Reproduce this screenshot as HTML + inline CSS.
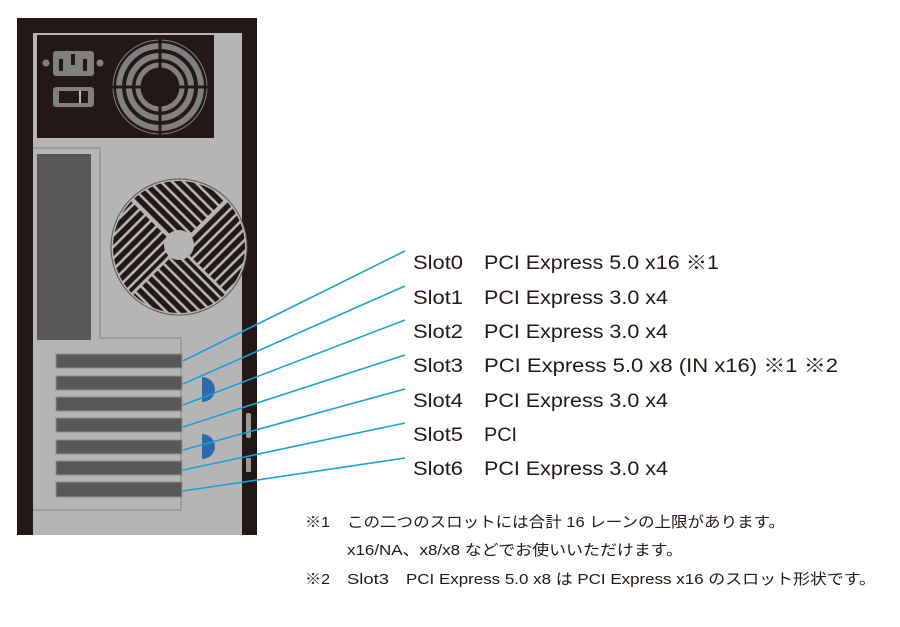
<!DOCTYPE html>
<html><head><meta charset="utf-8"><style>
html,body{margin:0;padding:0;background:#fff;width:900px;height:627px;overflow:hidden}
svg{display:block}
text{font-family:"Liberation Sans","Noto Sans CJK JP",sans-serif;fill:#231815}
</style></head><body>
<svg width="900" height="627" viewBox="0 0 900 627" xmlns="http://www.w3.org/2000/svg">
<defs>
<pattern id="pA" width="8" height="8" patternUnits="userSpaceOnUse" patternTransform="rotate(45)"><rect width="8" height="5.4" fill="#231815"/></pattern>
<pattern id="pB" width="8" height="8" patternUnits="userSpaceOnUse" patternTransform="rotate(-45)"><rect width="8" height="5.4" fill="#231815"/></pattern>
<clipPath id="cf"><circle cx="179" cy="247" r="66"/></clipPath>
</defs>
<rect x="17" y="18" width="240" height="517" fill="#231815"/>
<rect x="33" y="33" width="209" height="502" fill="#b5b5b6"/>
<rect x="37" y="35" width="177" height="103" fill="#231815"/>
<circle cx="46" cy="63" r="3.5" fill="#808080"/>
<circle cx="100" cy="63" r="3.5" fill="#808080"/>
<rect x="53" y="51" width="41" height="25" rx="3" fill="#808080"/>
<rect x="59" y="59" width="4" height="12" fill="#231815"/>
<rect x="71" y="54" width="4" height="11" fill="#231815"/>
<rect x="83" y="59" width="4" height="12" fill="#231815"/>
<rect x="53" y="87" width="41" height="20" rx="3" fill="#808080"/>
<rect x="59" y="91" width="29" height="12" fill="#231815"/>
<rect x="79" y="91" width="2" height="12" fill="#b5b5b6"/>
<g fill="none" stroke="#808080">
<circle cx="160" cy="87" r="47" stroke-width="1"/>
<circle cx="160" cy="87" r="41" stroke-width="6"/>
<circle cx="160" cy="87" r="31" stroke-width="6"/>
<circle cx="160" cy="87" r="22" stroke-width="5"/>
</g>
<g stroke="#231815" stroke-width="3"><line x1="160" y1="38" x2="160" y2="136"/><line x1="111" y1="87" x2="209" y2="87"/></g>
<path d="M33 148 H100 V338 H181 V510 H33" fill="none" stroke="#8e8e8e" stroke-width="1.2"/>
<rect x="37" y="154" width="54" height="186" fill="#595757"/>
<circle cx="179" cy="247" r="68" fill="#b5b5b6" stroke="#595757" stroke-width="1"/>
<g clip-path="url(#cf)">
<path d="M179 247 L111 179 L247 179 Z" fill="url(#pA)"/>
<path d="M179 247 L111 315 L247 315 Z" fill="url(#pA)"/>
<path d="M179 247 L111 179 L111 315 Z" fill="url(#pB)"/>
<path d="M179 247 L247 179 L247 315 Z" fill="url(#pB)"/>
<g stroke="#b5b5b6" stroke-width="3"><line x1="111" y1="179" x2="247" y2="315"/><line x1="247" y1="179" x2="111" y2="315"/></g>
</g>
<circle cx="179" cy="245" r="15" fill="#b5b5b6"/>
<g fill="#595757" stroke="#8e8e8e" stroke-width="1">
<rect x="56" y="354" width="126" height="14"/>
<rect x="56" y="376" width="126" height="14"/>
<rect x="56" y="397" width="126" height="14"/>
<rect x="56" y="418" width="126" height="14"/>
<rect x="56" y="440" width="126" height="14"/>
<rect x="56" y="461" width="126" height="14"/>
<rect x="56" y="482" width="126" height="15"/>
</g>
<path d="M202 377 A13 12.5 0 0 1 202 402 Z" fill="#2e6aa6"/>
<path d="M202 434 A13 12.5 0 0 1 202 459 Z" fill="#2e6aa6"/>
<rect x="246" y="413" width="5" height="25" rx="2" fill="#9a9a9a"/>
<rect x="246" y="458" width="5" height="14" rx="1" fill="#9a9a9a"/>
<g stroke="#1ba1d5" stroke-width="1.6">
<line x1="183" y1="361" x2="405" y2="251"/>
<line x1="183" y1="384" x2="405" y2="286"/>
<line x1="183" y1="405" x2="405" y2="320"/>
<line x1="183" y1="427" x2="405" y2="355"/>
<line x1="183" y1="450" x2="405" y2="389"/>
<line x1="183" y1="470" x2="405" y2="423"/>
<line x1="183" y1="491" x2="405" y2="458"/>
</g>
<g font-size="19">
<text x="413" y="269" textLength="50" lengthAdjust="spacingAndGlyphs">Slot0</text><text x="484" y="269" textLength="235" lengthAdjust="spacingAndGlyphs">PCI Express 5.0 x16 ※1</text>
<text x="413" y="304" textLength="50" lengthAdjust="spacingAndGlyphs">Slot1</text><text x="484" y="304" textLength="184" lengthAdjust="spacingAndGlyphs">PCI Express 3.0 x4</text>
<text x="413" y="338" textLength="50" lengthAdjust="spacingAndGlyphs">Slot2</text><text x="484" y="338" textLength="184" lengthAdjust="spacingAndGlyphs">PCI Express 3.0 x4</text>
<text x="413" y="372" textLength="50" lengthAdjust="spacingAndGlyphs">Slot3</text><text x="484" y="372" textLength="354" lengthAdjust="spacingAndGlyphs">PCI Express 5.0 x8 (IN x16) ※1 ※2</text>
<text x="413" y="407" textLength="50" lengthAdjust="spacingAndGlyphs">Slot4</text><text x="484" y="407" textLength="184" lengthAdjust="spacingAndGlyphs">PCI Express 3.0 x4</text>
<text x="413" y="441" textLength="50" lengthAdjust="spacingAndGlyphs">Slot5</text><text x="484" y="441" textLength="33" lengthAdjust="spacingAndGlyphs">PCI</text>
<text x="413" y="475" textLength="50" lengthAdjust="spacingAndGlyphs">Slot6</text><text x="484" y="475" textLength="184" lengthAdjust="spacingAndGlyphs">PCI Express 3.0 x4</text>
</g>
<g font-size="15">
<text x="305" y="527" textLength="25" lengthAdjust="spacingAndGlyphs">※1</text>
<text x="347" y="527" textLength="438" lengthAdjust="spacingAndGlyphs">この二つのスロットには合計 16 レーンの上限があります。</text>
<text x="347" y="555" textLength="336" lengthAdjust="spacingAndGlyphs">x16/NA、x8/x8 などでお使いいただけます。</text>
<text x="305" y="584" textLength="25" lengthAdjust="spacingAndGlyphs">※2</text>
<text x="347" y="584" textLength="42" lengthAdjust="spacingAndGlyphs">Slot3</text>
<text x="406" y="584" textLength="470" lengthAdjust="spacingAndGlyphs">PCI Express 5.0 x8 は PCI Express x16 のスロット形状です。</text>
</g>
</svg>
</body></html>
